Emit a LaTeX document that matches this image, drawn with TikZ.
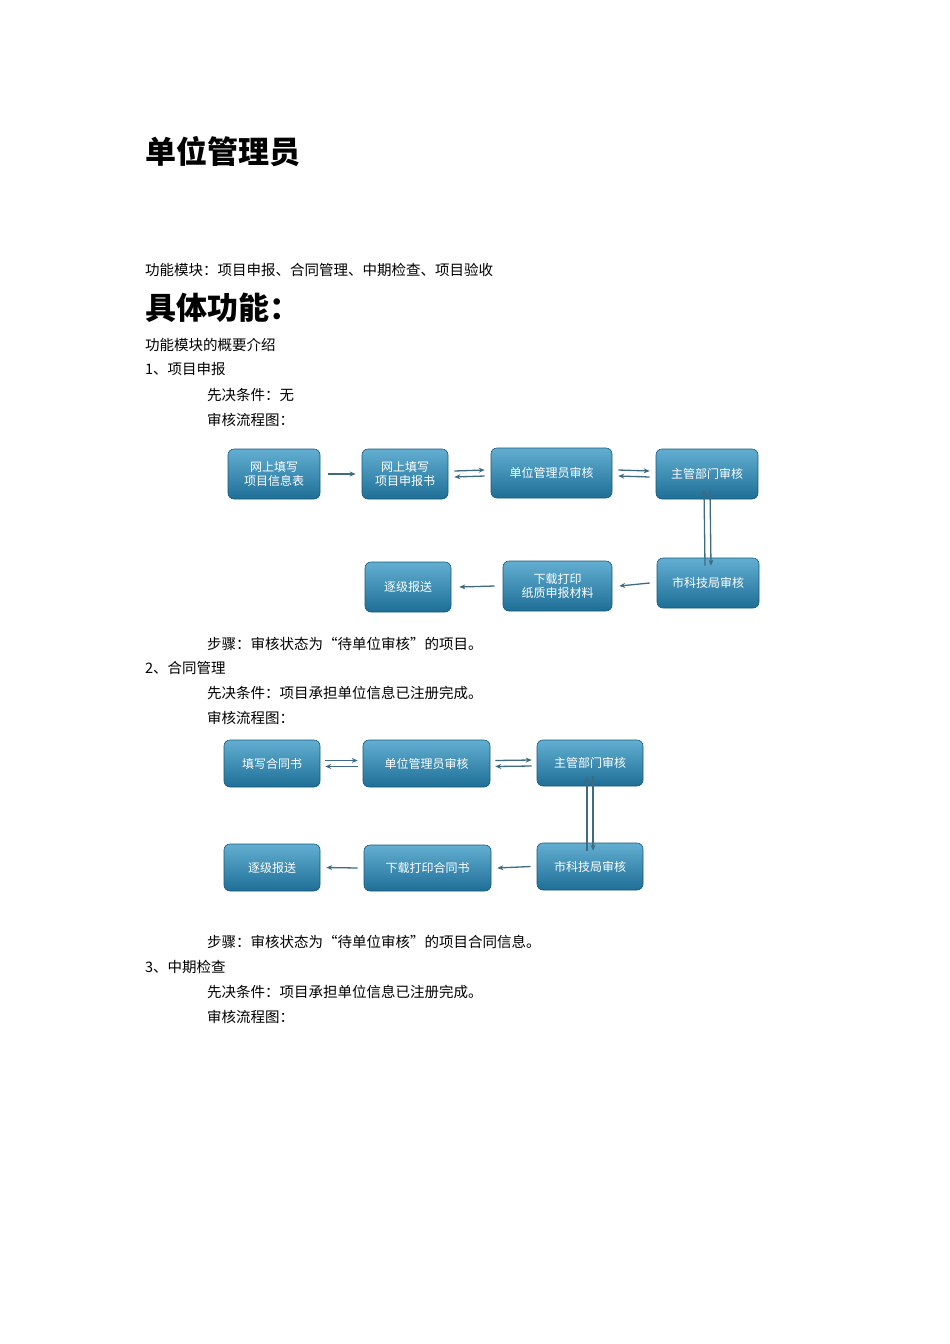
\documentclass[tikz,border=0pt]{standalone}
\usepackage{fontspec}
\setmainfont{Noto Sans CJK SC}
\usetikzlibrary{arrows.meta}
\definecolor{btop}{HTML}{63AFD2}
\definecolor{bbot}{HTML}{1E6E97}
\definecolor{arr}{HTML}{3E6B80}
\tikzset{
 box/.style={rounded corners=6pt, top color=btop, bottom color=bbot, draw=bbot!80!black, line width=0.6pt, text=white, font=\fontsize{12}{14}\selectfont, align=center, inner sep=0pt},
 txt/.style={anchor=west, font=\fontsize{14.5}{16}\selectfont, inner sep=0pt},
 fl/.style={-{Stealth[length=6pt,width=5pt]}, arr, line width=1.3pt}
}
\newcommand{\mybox}[6]{\node[box, minimum width={(#3-#2)*1pt}, minimum height={(#5-#4)*1pt}] (#1) at ({(#2+#3)/2},{(#4+#5)/2}) {#6};}
\begin{document}
\begin{tikzpicture}[x=1pt,y=-1pt]
\useasboundingbox (0,0) rectangle (950,1344);
\node[anchor=west, inner sep=0pt, font=\bfseries\fontsize{31}{34}\selectfont] (t1) at (145,152) {单位管理员};
\node[txt] (l1) at (145,270) {功能模块：项目申报、合同管理、中期检查、项目验收};
\node[anchor=west, inner sep=0pt, font=\bfseries\fontsize{31}{34}\selectfont] (t2) at (145,308) {具体功能：};
\node[txt] (l2) at (145,345) {功能模块的概要介绍};
\node[txt] (l3) at (145,369) {1、项目申报};
\node[txt] (l4) at (207,395) {先决条件：无};
\node[txt] (l5) at (207,420) {审核流程图：};
\node[txt] (l6) at (207,644) {步骤：审核状态为“待单位审核”的项目。};
\node[txt] (l7) at (145,668) {2、合同管理};
\node[txt] (l8) at (207,693) {先决条件：项目承担单位信息已注册完成。};
\node[txt] (l9) at (207,718) {审核流程图：};
\node[txt] (l10) at (207,942) {步骤：审核状态为“待单位审核”的项目合同信息。};
\node[txt] (l11) at (145,967) {3、中期检查};
\node[txt] (l12) at (207,992) {先决条件：项目承担单位信息已注册完成。};
\node[txt] (l13) at (207,1017) {审核流程图：};
% diagram 1
\mybox{a1}{228}{320}{449}{499}{网上填写\\项目信息表}
\mybox{a2}{362}{448}{449}{499}{网上填写\\项目申报书}
\mybox{a3}{491}{612}{448}{498}{单位管理员审核}
\mybox{a4}{656}{758}{449}{499}{主管部门审核}
\mybox{a5}{657}{759}{558}{608}{市科技局审核}
\mybox{a6}{503}{612}{561}{611}{下载打印\\纸质申报材料}
\mybox{a7}{365}{451}{562}{612}{逐级报送}
\draw[fl] ([xshift=8pt]a1.east) -- ([xshift=-6pt]a2.west);
\draw[fl] ([xshift=6pt,yshift=3pt]a2.east) -- ([xshift=-6pt,yshift=3pt]a3.west);
\draw[fl] ([xshift=-6pt,yshift=-3pt]a3.west) -- ([xshift=6pt,yshift=-3pt]a2.east);
\draw[fl] ([xshift=6pt,yshift=3pt]a3.east) -- ([xshift=-6pt,yshift=3pt]a4.west);
\draw[fl] ([xshift=-6pt,yshift=-3pt]a4.west) -- ([xshift=6pt,yshift=-3pt]a3.east);
\draw[fl] ([xshift=-3pt,yshift=-8pt]a5.north) -- ([xshift=-3pt,yshift=10pt]a4.south);
\draw[fl] ([xshift=3pt,yshift=10pt]a4.south) -- ([xshift=3pt,yshift=-8pt]a5.north);
\draw[fl] ([xshift=-7pt]a5.west) -- ([xshift=7pt]a6.east);
\draw[fl] ([xshift=-8pt]a6.west) -- ([xshift=8pt]a7.east);
% diagram 2
\mybox{b1}{224}{320}{740}{787}{填写合同书}
\mybox{b2}{363}{490}{740}{787}{单位管理员审核}
\mybox{b3}{537}{643}{740}{786}{主管部门审核}
\mybox{b4}{537}{643}{843}{890}{市科技局审核}
\mybox{b5}{364}{491}{845}{891}{下载打印合同书}
\mybox{b6}{224}{320}{844}{891}{逐级报送}
\draw[fl] ([xshift=5pt,yshift=3pt]b1.east) -- ([xshift=-5pt,yshift=3pt]b2.west);
\draw[fl] ([xshift=-5pt,yshift=-3pt]b2.west) -- ([xshift=5pt,yshift=-3pt]b1.east);
\draw[fl] ([xshift=5pt,yshift=3pt]b2.east) -- ([xshift=-5pt,yshift=3pt]b3.west);
\draw[fl] ([xshift=-5pt,yshift=-3pt]b3.west) -- ([xshift=5pt,yshift=-3pt]b2.east);
\draw[fl] ([xshift=-3pt,yshift=-8pt]b4.north) -- ([xshift=-3pt,yshift=10pt]b3.south);
\draw[fl] ([xshift=3pt,yshift=10pt]b3.south) -- ([xshift=3pt,yshift=-8pt]b4.north);
\draw[fl] ([xshift=-6pt]b4.west) -- ([xshift=6pt]b5.east);
\draw[fl] ([xshift=-6pt]b5.west) -- ([xshift=6pt]b6.east);
\end{tikzpicture}
\end{document}
